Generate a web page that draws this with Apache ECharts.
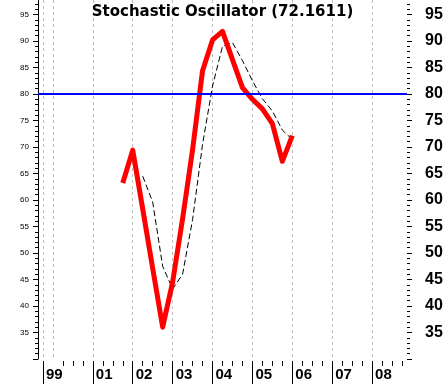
<!DOCTYPE html>
<html><head><meta charset="utf-8">
<script src="https://cdn.jsdelivr.net/npm/echarts@6/dist/echarts.min.js"></script>
<style>html,body{margin:0;padding:0;background:#fff}#c{width:445px;height:385px}</style>
</head><body><div id="c"></div>
<script>
const titleText = 'Stochastic Oscillator (72.1611)';
const quarters = ['2001Q4','2002Q1','2002Q2','2002Q3','2002Q4','2003Q1','2003Q2','2003Q3','2003Q4',
  '2004Q1','2004Q2','2004Q3','2004Q4','2005Q1','2005Q2','2005Q3','2005Q4','2006Q1'];
const percentK = [63.2, 69.4, 58.3, 47.1, 36.0, 44.5, 56.5, 69.5, 84.4,
  90.2, 91.8, 86.5, 81.2, 79.0, 77.2, 74.4, 67.3, 72.16];
const percentD = [null, null, 64.5, 59.6, 47.5, 43.2, 46.0, 56.3, 70.5,
  81.5, 89.0, 89.7, 86.3, 82.5, 79.1, 76.8, 73.2, 71.4];
const refLevel = 80;
const yearTickQuarters = ['1999Q4','2001Q1','2002Q1','2003Q1','2004Q1','2005Q1','2006Q1','2007Q1','2008Q1'];
const yearTickLabels = ['99','01','02','03','04','05','06','07','08'];
const gridQuarters = ['1999Q4','2000Q1','2001Q1','2002Q1','2003Q1','2004Q1','2005Q1','2006Q1','2007Q1','2008Q1'];
const axisStart = 1999.625, axisEnd = 2008.875, step = 0.125;

const FONT = "'Liberation Sans', Arial, sans-serif";
const TITLE_FONT = "'DejaVu Sans', Verdana, sans-serif";
const qKey = q => (parseInt(q.slice(0,4)) + (parseInt(q.slice(5)) - 1) * 0.25).toFixed(3);
const cats = [];
for (let t = axisStart; t <= axisEnd + 1e-9; t += step) cats.push(t.toFixed(3));
const labelMap = {};
yearTickQuarters.forEach((q, i) => labelMap[qKey(q)] = yearTickLabels[i]);
const longSet = new Set(yearTickQuarters.map(qKey));
const gridSet = new Set(gridQuarters.map(qKey));
const shortSet = new Set(cats.filter(c => {
  const t = parseFloat(c);
  return Math.abs(t * 4 - Math.round(t * 4)) < 1e-6 && t >= 2000.2 && !longSet.has(c) && Math.abs(t - Math.round(t)) > 1e-6;
}));

const kData = quarters.map((q, i) => [qKey(q), percentK[i]]);
const dData = quarters.map((q, i) => [qKey(q), percentD[i]]).filter(p => p[1] != null);

const chart = echarts.init(document.getElementById('c'), null, {renderer: 'canvas'});
const yBase = {
  type: 'value', min: 30, max: 100, interval: 5, splitLine: {show: false},
  axisTick: {show: true, length: 5, lineStyle: {color: '#000', width: 1}},
  minorTick: {show: true, splitNumber: 5, length: 3, lineStyle: {color: '#000', width: 1}},
  minorSplitLine: {show: false}
};
chart.setOption({
  animation: false,
  backgroundColor: '#fff',
  title: {text: titleText, left: 'center', top: 5, padding: 0,
    textStyle: {fontSize: 15, fontWeight: 'bold', color: '#000', fontFamily: TITLE_FONT}},
  grid: {left: 38, right: 38, top: -12, bottom: 26, containLabel: false, outerBoundsMode: 'none'},
  xAxis: [
    {type: 'category', data: cats, boundaryGap: false, position: 'bottom', offset: 2,
     axisLine: {show: false},
     axisTick: {show: true, interval: (i, v) => longSet.has(v), length: 23, lineStyle: {color: '#000', width: 1}},
     axisLabel: {show: true, interval: (i, v) => longSet.has(v), formatter: v => labelMap[v] || '',
       align: 'left', padding: [0, 0, 0, 3], margin: 6, fontSize: 15, fontWeight: 'bold', color: '#000', fontFamily: FONT},
     splitLine: {show: true, interval: (i, v) => gridSet.has(v), lineStyle: {color: '#bdbdbd', width: 1, type: [3, 3]}}
    },
    {type: 'category', data: cats, boundaryGap: false, position: 'bottom', offset: 2,
     axisLine: {show: false},
     axisTick: {show: true, interval: (i, v) => shortSet.has(v), length: 5, lineStyle: {color: '#000', width: 1}},
     axisLabel: {show: false}, splitLine: {show: false}
    }
  ],
  yAxis: [
    Object.assign({}, yBase, {position: 'left',
      axisLine: {show: true, lineStyle: {color: '#000', width: 1}},
      axisLabel: {show: true, fontSize: 8, color: '#000', margin: 9, fontFamily: FONT, showMinLabel: false, showMaxLabel: false}}),
    Object.assign({}, yBase, {position: 'right',
      axisLine: {show: false},
      axisTick: {show: true, length: 5, lineStyle: {color: '#000', width: 1}},
      axisLabel: {show: true, fontSize: 16, fontWeight: 'bold', color: '#000', margin: 18, fontFamily: FONT, showMinLabel: false, showMaxLabel: false}})
  ],
  series: [
    {type: 'line', name: '%D', data: dData, xAxisIndex: 0, yAxisIndex: 0, symbol: 'none', z: 2,
     lineStyle: {color: '#000', width: 1, type: [6, 3]},
     markLine: {silent: true, symbol: ['none', 'none'], label: {show: false},
       lineStyle: {color: '#0000ff', width: 2, type: 'solid'}, data: [{yAxis: refLevel}]}},
    {type: 'line', name: '%K', data: kData, xAxisIndex: 0, yAxisIndex: 0, symbol: 'none', z: 3,
     lineStyle: {color: '#ff0000', width: 5, join: 'round'}}
  ]
});
</script></body></html>
